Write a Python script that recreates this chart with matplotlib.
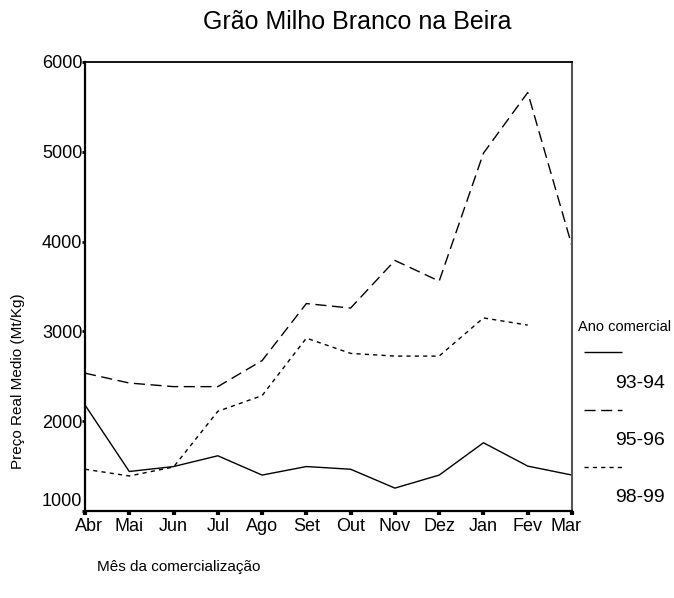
import numpy as np
from matplotlib import pyplot as plt
from matplotlib.lines import Line2D
from matplotlib.transforms import ScaledTranslation

plt.rcParams['font.family'] = ['Liberation Sans', 'DejaVu Sans']

meses = ['Abr', 'Mai', 'Jun', 'Jul', 'Ago', 'Set', 'Out', 'Nov', 'Dez', 'Jan', 'Fev', 'Mar']
anos = ['93-94', '95-96', '98-99']
p9394 = [2180, 1440, 1495, 1615, 1400, 1495, 1465, 1255, 1400, 1760, 1500, 1400]
p9596 = [2535, 2425, 2385, 2385, 2675, 3310, 3260, 3790, 3560, 4985, 5660, 3950]
p9899 = [1465, 1390, 1490, 2110, 2285, 2925, 2755, 2725, 2725, 3150, 3070, np.nan]

estilos = [(0, ()), (0, (8, 4)), (0, (3, 3))]

fig = plt.figure(figsize=(6.74, 5.98), dpi=100)
ax = fig.add_axes([85/674, 1-511/598, 487/674, 449/598])

x = np.arange(len(meses))
for serie, ls in zip([p9394, p9596, p9899], estilos):
    ax.plot(x, serie, color='black', linewidth=1.0, linestyle=ls)

ax.set_xlim(0, len(meses)-1)
ax.set_ylim(1000, 6000)
ax.set_xticks(x)
ax.set_xticklabels(meses)
ax.set_yticks([1000, 2000, 3000, 4000, 5000, 6000])
ax.tick_params(axis='x', direction='out', length=3, width=3, labelsize=13, pad=2)
ax.tick_params(axis='y', direction='out', length=2, width=2, labelsize=13, pad=0)
for s in ['left', 'bottom']:
    ax.spines[s].set_linewidth(1.6)
ax.spines['top'].set_linewidth(1.3)
ax.spines['right'].set_color('#555555')
ax.spines['right'].set_linewidth(1.5)

# rótulos das pontas puxados para dentro, como no original
def desloca(lbl, dx, dy):
    lbl.set_transform(lbl.get_transform() + ScaledTranslation(dx/100, dy/100, fig.dpi_scale_trans))

desloca(ax.get_yticklabels()[0], 0, 11)
desloca(ax.get_xticklabels()[0], 4, 0)
desloca(ax.get_xticklabels()[-1], -6, 0)

fig.text(357/674, 1-22/598, 'Grão Milho Branco na Beira', ha='center', va='center', fontsize=18)
fig.text(18/674, 1-381/598, 'Preço Real Medio (Mt/Kg)', rotation=90, ha='center', va='center', fontsize=11)
fig.text(97/674, 1-567/598, 'Mês da comercialização', ha='left', va='center', fontsize=11)

# legenda manual
fig.text(578/674, 1-327/598, 'Ano comercial', ha='left', va='center', fontsize=10.5)
for i, (nome, ls) in enumerate(zip(anos, estilos)):
    yl = 1 - (352 + 57.5*i)/598
    fig.add_artist(Line2D([584/674, 622/674], [yl, yl], color='black', linewidth=1.0,
                          linestyle=ls, transform=fig.transFigure))
    fig.text(615/674, yl - 31/598, nome, ha='left', va='center', fontsize=14)

plt.savefig('out.png', dpi=100)
